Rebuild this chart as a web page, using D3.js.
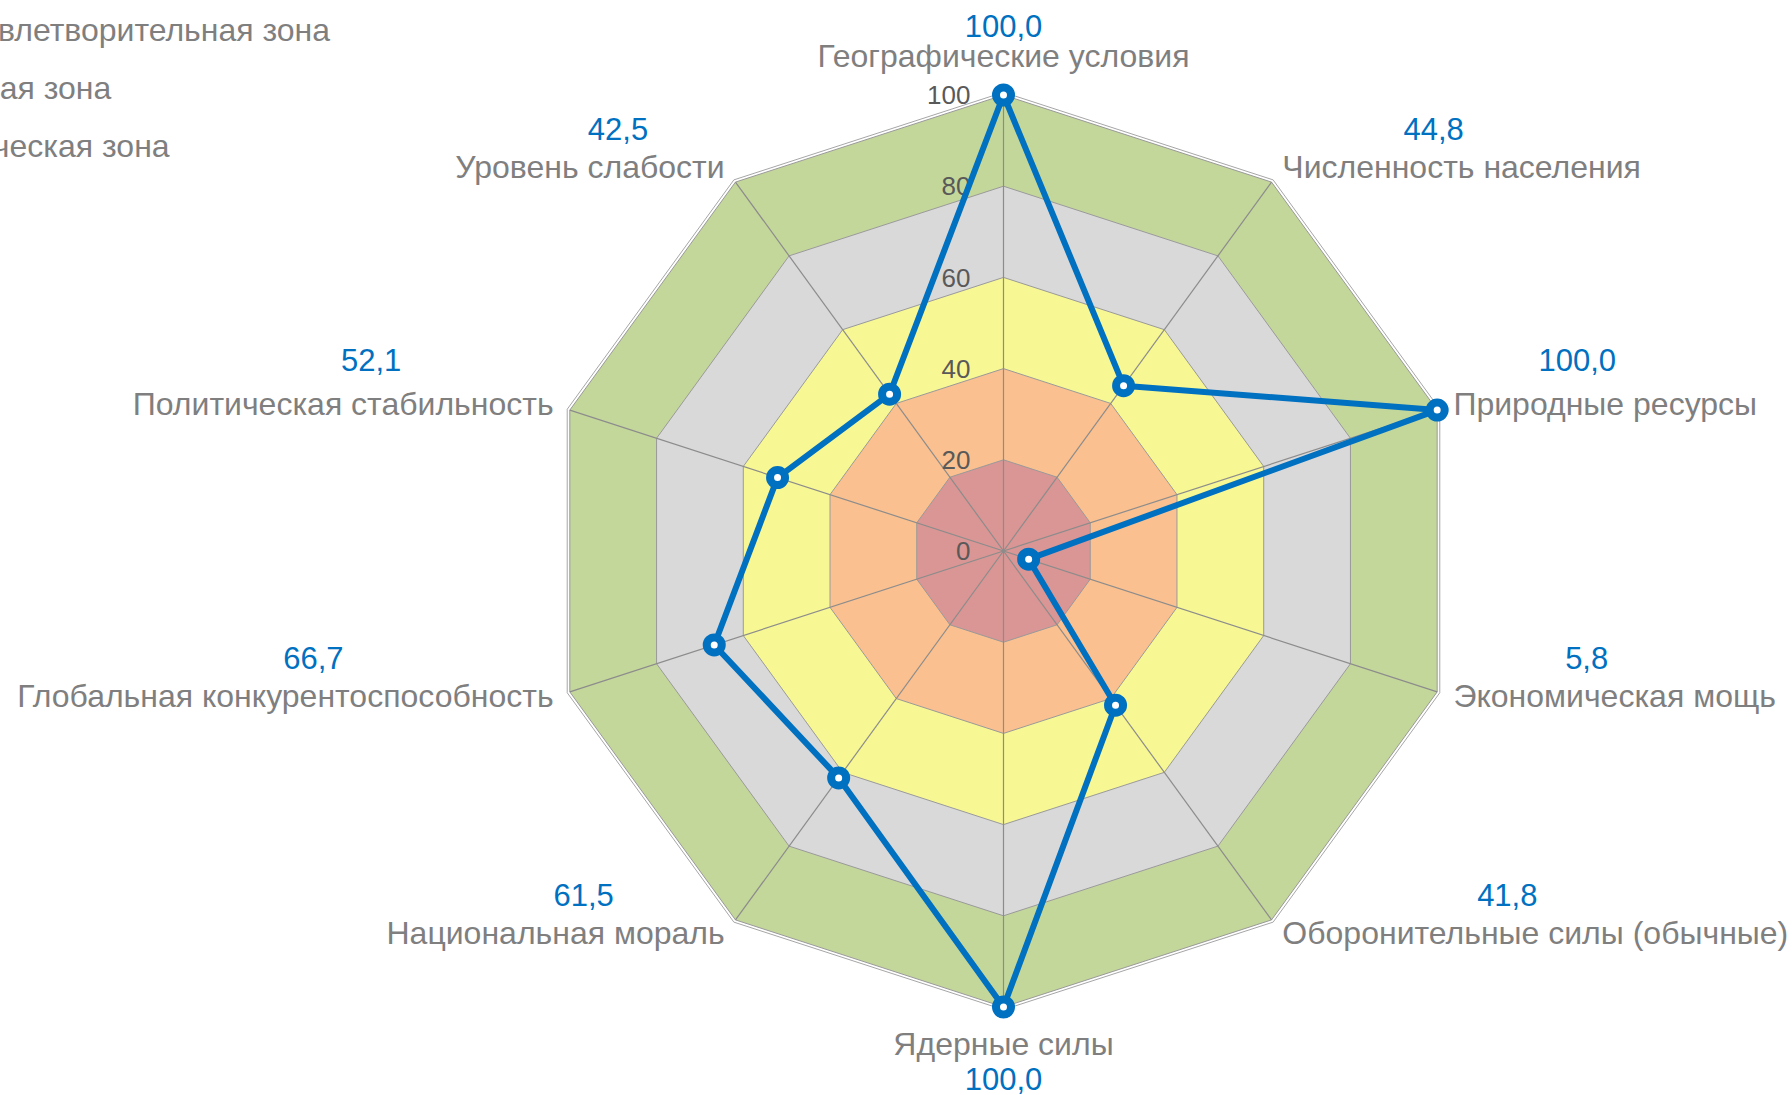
<!DOCTYPE html>
<html lang="ru">
<head>
<meta charset="UTF-8">
<title>Радар</title>
<script src="https://cdn.jsdelivr.net/npm/d3@7"></script>
<style>
	body { margin: 0; background: #fff; }
	svg { display: block; font-family: "Liberation Sans", Arial, sans-serif; }
</style>
</head>
<body>
<script>

	// данные
	var categories = ["Географические условия", "Численность населения", "Природные ресурсы",
		"Экономическая мощь", "Оборонительные силы (обычные)", "Ядерные силы",
		"Национальная мораль", "Глобальная конкурентоспособность", "Политическая стабильность",
		"Уровень слабости"];
	var values = [100.0, 44.8, 100.0, 5.8, 41.8, 100.0, 61.5, 66.7, 52.1, 42.5];
	var ticks = [0, 20, 40, 60, 80, 100];
	var zoneLimits = [100, 80, 60, 40, 20];
	var zoneColors = ["#C4D79B", "#D9D9D9", "#F7F794", "#FAC090", "#D99694"];
	var legendNames = ["Неудовлетворительная зона", "Опасная зона", "Критическая зона"];
	var legendColors = ["#D9D9D9", "#FAC090", "#D99694"];

	var width = 1792, height = 1095;
	var cx = 1003.5, cy = 551, R = 456;

	var svg = d3.select("body").append("svg").attr("width", width).attr("height", height);

	var r = d3.scaleLinear().domain([0, 100]).range([0, R]);
	var angle = d3.scaleLinear().domain([0, categories.length]).range([0, 2 * Math.PI]);

	function pt(i, v) {
		var a = angle(i);
		return [cx + r(v) * Math.sin(a), cy - r(v) * Math.cos(a)];
	}
	function ring(v) {
		return categories.map(function (c, i) { return pt(i, v); });
	}
	var poly = d3.line().curve(d3.curveLinearClosed);

	// зоны
	svg.append("g").selectAll("path").data(zoneLimits).enter().append("path")
		.attr("d", function (v) { return poly(ring(v)); })
		.attr("fill", function (v, i) { return zoneColors[i]; })
		.attr("stroke", "#9a9a9a").attr("stroke-width", 1);

	// внешняя линия сетки
	svg.append("path").attr("d", poly(ring(100.6)))
		.attr("fill", "none").attr("stroke", "#a6a6a6").attr("stroke-width", 1);

	// оси
	svg.append("g").selectAll("line").data(categories).enter().append("line")
		.attr("x1", cx).attr("y1", cy)
		.attr("x2", function (c, i) { return pt(i, 100)[0]; })
		.attr("y2", function (c, i) { return pt(i, 100)[1]; })
		.attr("stroke", "#8c8c8c").attr("stroke-width", 1.2);

	// подписи шкалы
	svg.append("g").selectAll("text").data(ticks).enter().append("text")
		.attr("x", cx - 33).attr("y", function (v) { return cy - r(v); })
		.attr("dy", "0.35em").attr("text-anchor", "end")
		.attr("font-size", 26).attr("fill", "#595959")
		.text(function (v) { return v; });

	// серия
	var pts = values.map(function (v, i) { return pt(i, v); });
	svg.append("path").attr("d", poly(pts))
		.attr("fill", "none").attr("stroke", "#0070C0").attr("stroke-width", 6)
		.attr("stroke-linejoin", "round");
	svg.append("g").selectAll("circle").data(pts).enter().append("circle")
		.attr("cx", function (d) { return d[0]; }).attr("cy", function (d) { return d[1]; })
		.attr("r", 7.5).attr("fill", "#fff").attr("stroke", "#0070C0").attr("stroke-width", 8);

	// подписи категорий и значений
	var fmt = function (v) { return d3.format(".1f")(v).replace(".", ","); };
	categories.forEach(function (c, i) {
		var a = angle(i), s = Math.sin(a), co = Math.cos(a);
		var v = pt(i, 100);
		var anchor = s > 0.1 ? "start" : (s < -0.1 ? "end" : "middle");
		var x = v[0] + (s > 0.1 ? 1 : (s < -0.1 ? -1 : 0)) * (2 + 15 * Math.abs(s));
		var y = Math.abs(s) < 0.1 ? v[1] + 10 - 38 * co : v[1] + 10 - 17 * co;
		var t = svg.append("text").attr("x", x).attr("y", y)
			.attr("text-anchor", anchor).attr("font-size", 32).attr("fill", "#7F7F7F")
			.text(c);
		var w = t.node().getComputedTextLength();
		var mid = anchor == "start" ? x + w / 2 : (anchor == "end" ? x - w / 2 : x);
		var vx = mid - Math.sign(Math.round(s * 10)) * 28;
		var gap = Math.abs(s) < 0.1 ? 30 : (co > 0.2 && co < 0.5 ? 44 : 38);
		var vy = co < -0.9 ? y + 35 : y - gap;
		svg.append("text").attr("x", vx).attr("y", vy)
			.attr("text-anchor", "middle").attr("font-size", 31).attr("fill", "#0070C0")
			.text(fmt(values[i]));
	});

	// легенда (обрезана слева)
	var leg = svg.append("g");
	legendNames.forEach(function (n, i) {
		leg.append("rect").attr("x", -130).attr("y", 30 + 58 * i - 10)
			.attr("width", 20).attr("height", 20).attr("fill", legendColors[i]);
		leg.append("text").attr("x", -94).attr("y", 30 + 58 * i).attr("dy", "0.35em")
			.attr("font-size", 32).attr("fill", "#7F7F7F").text(n);
	});

</script>
</body>
</html>
